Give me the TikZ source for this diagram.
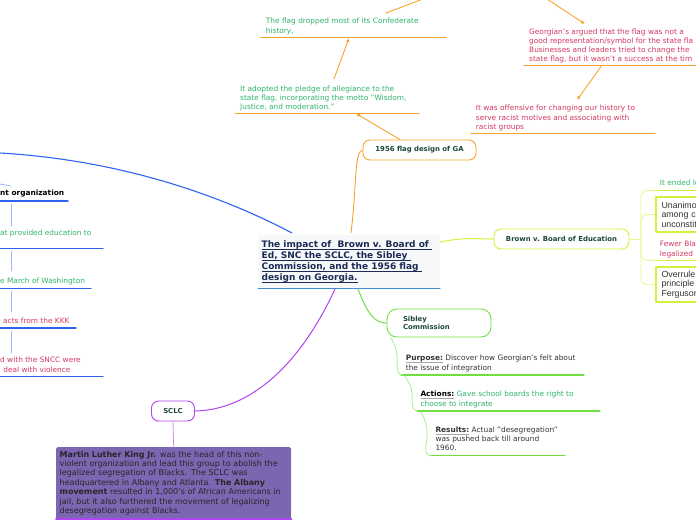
\documentclass[tikz,border=0pt]{standalone}
\usepackage{fontspec}
\setmainfont{DejaVu Sans}
\newfontfamily\boxfont{Liberation Sans}
\usetikzlibrary{arrows.meta}
\definecolor{flagorange}{HTML}{F8A22C}
\definecolor{notegreen}{HTML}{2FB36A}
\definecolor{notered}{HTML}{D33860}
\definecolor{leftblue}{HTML}{2F62F0}
\definecolor{paleblue}{HTML}{9DB8F6}
\definecolor{brownlime}{HTML}{D2F23C}
\definecolor{palelime}{HTML}{E4F88E}
\definecolor{sibleygreen}{HTML}{6CE040}
\definecolor{palegreen}{HTML}{A8F08C}
\definecolor{sclcpurple}{HTML}{AE44F2}
\definecolor{palepurple}{HTML}{C990F5}
\definecolor{boxpurple}{HTML}{7C65B1}
\definecolor{nodegreen}{HTML}{1C4A33}
\definecolor{topicnavy}{HTML}{1B2B55}
\definecolor{topicline}{HTML}{3C8ED2}
\definecolor{topicbg}{HTML}{F7F8FA}
\definecolor{darktext}{HTML}{333333}
\newcommand\notesize{\fontsize{7.4}{9.1}\selectfont}
\newlength\rulewd
% text with a rule under it: {colour}{thickness}{text}
\newcommand\ruled[3]{\settowidth\rulewd{#3}#3\kern-\rulewd{\color{#1}\rule[-1.9pt]{\rulewd}{#2}}}
\newcommand\fieldlabel[1]{\ruled{gray!70}{0.9pt}{\textbf{#1}}}
\newcommand\topicrow[1]{\ruled{topicnavy}{0.7pt}{#1}}
\begin{document}
\begin{tikzpicture}[x=1pt,y=-1pt,line cap=round,line join=round,
  note/.style={anchor=north west,inner sep=0pt,align=left,font=\notesize},
  maintopic/.style={anchor=north west,inner sep=0pt,align=left,text=topicnavy,
    font=\bfseries\fontsize{9}{10.8}\selectfont},
  topic/.style={draw,fill=white,rounded corners=7pt,line width=0.9pt,inner sep=0pt,
    text=nodegreen,font=\bfseries\fontsize{6.9}{8}\selectfont},
  limebox/.style={draw=brownlime,line width=2pt,fill=white,anchor=west,align=left,
    minimum width=50pt,minimum height=35.5pt,text width=40pt,inner xsep=5.5pt,
    text=darktext,font=\boxfont\fontsize{8.8}{9.5}\selectfont},
  flagline/.style={flagorange,line width=0.9pt},
  flagarrow/.style={flagline,-{Latex[length=4pt,width=3.6pt]}},
  flagrule/.style={flagorange,line width=1.3pt},
  bluerule/.style={leftblue,line width=1.4pt},
  bluestem/.style={paleblue,line width=0.8pt},
  limerule/.style={brownlime,line width=1.3pt},
  limestem/.style={palelime,line width=0.9pt,rounded corners=6pt},
  greenrule/.style={sibleygreen,line width=1.3pt},
  greenstem/.style={palegreen,line width=0.8pt}]
\useasboundingbox (0,0) rectangle (696,520);
\clip (0,0) rectangle (696,520);

% central topic
\fill[topicbg] (258,235) rectangle (440,288);
\node[maintopic] (impact) at (261.5,240.9) {\topicrow{The impact of\ \ Brown v. Board of\ }\\
  \topicrow{Ed, SNC the SCLC, the Sibley\ }\\\topicrow{Commission, and the 1956 flag\ }\\\topicrow{design on Georgia.}};
\draw[topicline,line width=1pt] (258,288.5) -- (440,288.5);
\coordinate (impactNW) at (292,233);
\coordinate (impactN) at (351,233);
\coordinate (impactE) at (440,242);
\coordinate (impactS) at (358,289);
\coordinate (impactSW) at (335,289);

% left branch
\coordinate (leftend) at (0,153);
\draw[leftblue,line width=1.1pt] (impactNW) .. controls (220,195) and (120,160) .. (leftend);
\node[note,font=\notesize\bfseries,text=black] (nonviolent) at (0,189.7) {nt organization};
\node[note,text=notegreen] (educated) at (0,229.4) {at provided education to};
\node[note,text=notegreen] (march) at (0,278.1) {e March of Washington};
\node[note,text=notered] (kkk) at (3,318.1) {acts from the KKK};
\node[note,text=notered] (sncc) at (0,357.1) {d with the SNCC were\\\hspace*{3.2pt}deal with violence};
\draw[bluestem] (0,184) -- (11,186);
\draw[bluerule] (0,201) -- (68,201);
\draw[bluerule] (0,248.5) -- (103,248.5);
\draw[bluerule] (0,288.5) -- (91,288.5);
\draw[bluerule] (0,328) -- (76,328);
\draw[bluerule] (0,376.7) -- (103,376.7);
\foreach \ytop/\ybot in {204/226,251/271,291/312,331/353}
  \draw[bluestem] (11.5,\ytop) -- (11.5,\ybot);

% flag branch
\node[topic,draw=flagorange,minimum width=113pt,minimum height=20pt] (flag) at (419.5,150) {1956 flag design of GA};
\draw[flagline] (impactN) .. controls (357,185) and (354,152) .. (flag.west);
\node[note,text=notegreen] (dropped) at (265.7,18.1) {The flag dropped most of its Confederate\\history,};
\node[note,text=notegreen] (pledge) at (240,85.4) {It adopted the pledge of allegiance to the\\state flag, incorporating the motto "Wisdom,\\Justice, and moderation."};
\node[note,text=notered] (argued) at (529,28.4) {Georgian's argued that the flag was not a\\good representation/symbol for the state fla\\Businesses and leaders tried to change the\\state flag, but it wasn't a success at the tim};
\node[note,text=notered] (offensive) at (475.7,105.1) {It was offensive for changing our history to\\serve racist motives and associating with\\racist groups};
\draw[flagrule] (261,37.5) -- (446,37.5);
\draw[flagrule] (235.5,113.5) -- (419,113.5);
\draw[flagrule] (524,65.7) -- (696,65.7);
\draw[flagrule] (471,133.7) -- (655,133.7);
\coordinate (pledgeU) at (356,113.5);
\coordinate (pledgeTop) at (334,79);
\coordinate (droppedU) at (349,38);
\coordinate (droppedTop) at (386,13);
\coordinate (offNW) at (423,-1);
\coordinate (offNE) at (547,-1);
\coordinate (arguedTop) at (585,24);
\coordinate (arguedU) at (601,66.5);
\coordinate (offensiveTop) at (577,100);
\draw[flagarrow] ([xshift=-19.5pt]flag.north) -- (pledgeU);
\draw[flagarrow] (pledgeTop) -- (droppedU);
\draw[flagline] (droppedTop) -- (offNW);
\draw[flagarrow] (offNE) -- (arguedTop);
\draw[flagarrow] (arguedU) -- (offensiveTop);

% brown branch
\node[topic,draw=brownlime,minimum width=135pt,minimum height=20pt] (brown) at (561.5,239) {Brown v. Board of Education};
\draw[brownlime,line width=1pt] (impactE) .. controls (465,237) and (475,239) .. (brown.west);
\coordinate (bfork) at (641,239);
\node[note,text=notegreen] (ended) at (659.7,180.1) {It ended le};
\node[note,text=notered] (fewer) at (659.7,241.1) {Fewer Blac\\legalized};
\node[limebox] (unanimous) at (655,214.5) {Unanimo\\among c\\unconstit};
\node[limebox] (overrule) at (655,284.7) {Overrule\\principle\\Ferguson};
\draw[limerule] (655,190.5) -- (696,190.5);
\draw[limerule] (655,260.3) -- (696,260.3);
\draw[limestem] (brown.east) -- (bfork);
\draw[limestem] (bfork) |- (655,190.5);
\draw[limestem] (bfork) |- (unanimous.west);
\draw[limestem] (bfork) |- (655,260.3);
\draw[limestem] (bfork) |- (overrule.west);

% sibley branch
\node[topic,draw=sibleygreen,rounded corners=10pt,align=left,text width=72pt,inner xsep=16pt,minimum height=28pt] (sibley) at (439,323) {Sibley\\Commission};
\draw[sibleygreen,line width=1pt] (impactS) .. controls (368,315) and (375,323) .. (sibley.west);
\node[note,text=darktext] (purpose) at (405.7,355.1) {\fieldlabel{Purpose:} Discover how Georgian's felt about\\the issue of integration};
\node[note,text=notegreen] (actions) at (420.3,391.1) {\textcolor{black}{\fieldlabel{Actions:}} Gave school boards the right to\\choose to integrate};
\node[note,text=darktext] (results) at (435.3,426.7) {\fieldlabel{Results:} Actual "desegregation"\\was pushed back till around\\1960.};
\draw[greenrule] (401,375) -- (584,375);
\draw[greenrule] (417,411) -- (600,411);
\draw[greenrule] (430,455.7) -- (565,455.7);
\coordinate (sibleyFoot) at (391,338);
\draw[greenstem] (sibleyFoot) to[out=-60,in=95] (397,356) to[out=-85,in=180] (403,375);
\draw[greenstem] (405,376) to[out=-60,in=95] (412,393) to[out=-85,in=180] (418,411);
\draw[greenstem] (421,412) to[out=-60,in=95] (427,432) to[out=-85,in=180] (431,455.7);

% sclc branch
\node[topic,draw=sclcpurple,minimum width=43pt,minimum height=20pt] (sclc) at (173,411) {SCLC};
\draw[sclcpurple,line width=1pt] (impactSW) .. controls (300,365) and (250,410) .. (sclc.east);
\node[anchor=north west,fill=boxpurple,rounded corners=1.5pt,text width=228pt,inner xsep=3.5pt,inner ysep=3pt,
  minimum height=72pt,align=left,text=black!85,font=\fontsize{8}{9.45}\selectfont] (mlk) at (56,447)
  {\textbf{Martin Luther King Jr.} was the head of this non-\\violent organization and lead this group to abolish the\\legalized segregation of Blacks. The SCLC was\\headquartered in Albany and Atlanta. \textbf{The Albany}\\\textbf{movement} resulted in 1,000's of African Americans in\\jail, but it also furthered the movement of legalizing\\desegregation against Blacks.};
\draw[palepurple,line width=0.8pt] (sclc.south) -- (mlk.north);
\draw[sclcpurple,line width=2pt] (mlk.south west) -- (mlk.south east);
\end{tikzpicture}
\end{document}
